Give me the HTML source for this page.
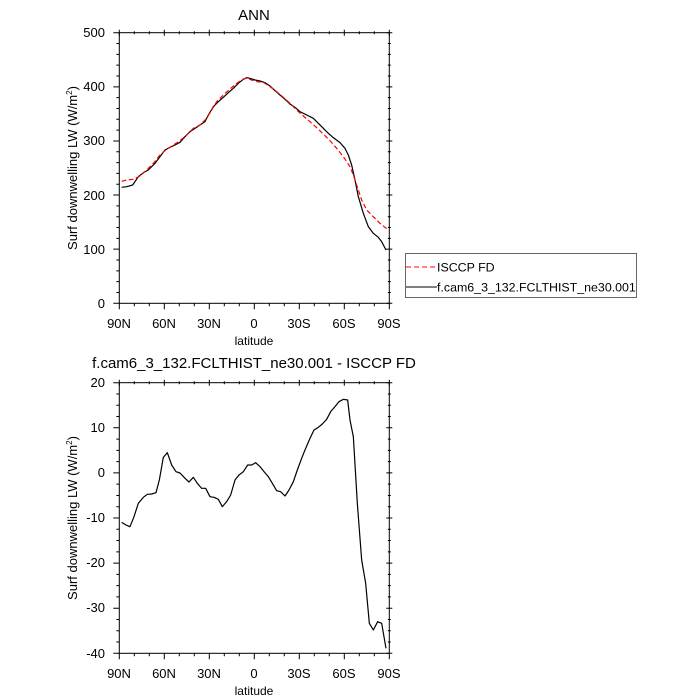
<!DOCTYPE html>
<html><head><style>html,body{margin:0;padding:0;background:#fff}svg{display:block}text{font-family:"Liberation Sans",sans-serif;fill:#000}</style></head>
<body>
<svg width="700" height="700" viewBox="0 0 700 700" xmlns="http://www.w3.org/2000/svg">
<g id="ticks" stroke="#000" stroke-width="1" fill="none"></g>
<text x="254" y="20" font-size="15" text-anchor="middle">ANN</text>
<text x="254" y="368" font-size="15" text-anchor="middle">f.cam6_3_132.FCLTHIST_ne30.001 - ISCCP FD</text>
<rect x="119.3" y="32.7" width="270" height="270.6" fill="none" stroke="#000" stroke-width="1"/>
<rect x="119.3" y="382.7" width="270" height="270.6" fill="none" stroke="#000" stroke-width="1"/>
<g font-size="13" text-anchor="end">
<text x="105" y="37">500</text><text x="105" y="91">400</text><text x="105" y="145">300</text><text x="105" y="200">200</text><text x="105" y="254">100</text><text x="105" y="308">0</text>
<text x="105" y="387">20</text><text x="105" y="432">10</text><text x="105" y="477">0</text><text x="105" y="522">-10</text><text x="105" y="567">-20</text><text x="105" y="612">-30</text><text x="105" y="658">-40</text>
</g>
<g font-size="13" text-anchor="middle">
<text x="119" y="328">90N</text><text x="164" y="328">60N</text><text x="209" y="328">30N</text><text x="254" y="328">0</text><text x="299" y="328">30S</text><text x="344" y="328">60S</text><text x="389" y="328">90S</text>
<text x="119" y="678">90N</text><text x="164" y="678">60N</text><text x="209" y="678">30N</text><text x="254" y="678">0</text><text x="299" y="678">30S</text><text x="344" y="678">60S</text><text x="389" y="678">90S</text>
<text x="254" y="345" font-size="12">latitude</text>
<text x="254" y="695" font-size="12">latitude</text>
</g>
<text transform="translate(77,168) rotate(-90)" font-size="13" text-anchor="middle">Surf downwelling LW (W/m<tspan font-size="8" dy="-5">2</tspan><tspan dy="5">)</tspan></text>
<text transform="translate(77,518) rotate(-90)" font-size="13" text-anchor="middle">Surf downwelling LW (W/m<tspan font-size="8" dy="-5">2</tspan><tspan dy="5">)</tspan></text>
<g transform="translate(60,20) scale(0.33333)" fill="none" stroke-width="3.6" stroke-linejoin="round">
<polyline stroke="#000" points="185,502 200,500 218,495 235,470 250,458 265,450 285,430 300,410 315,390 330,382 345,375 360,367 375,350 390,335 405,325 420,315 435,305 445,285 460,260 475,245 490,232 505,218 520,205 535,190 550,178 560,173 570,175 585,180 600,183 615,188 630,198 645,212 660,225 675,238 690,252 705,262 720,275 740,285 760,295 775,310 790,325 805,340 820,353 840,368 855,385 865,405 875,435 885,480 895,530 910,580 925,620 940,640 955,652 965,665 978,690"/>
<polyline stroke="#f00" stroke-dasharray="14,8" points="185,484 200,480 220,478 240,468 260,450 280,430 300,405 320,388 340,375 360,362 380,345 400,325 420,315 440,295 455,270 470,245 490,225 510,207 530,190 550,177 560,175 575,180 590,185 610,187 630,200 650,215 670,232 690,250 710,270 730,288 750,305 770,323 790,342 810,362 830,385 850,410 870,440 880,465 890,495 905,540 920,570 940,590 960,610 985,630"/>
</g>
<g transform="translate(60,370) scale(0.33333)" fill="none" stroke-width="3.6" stroke-linejoin="round">
<polyline stroke="#000" points="185,457 198,465 210,470 222,440 235,400 250,382 262,373 275,372 288,368 298,330 310,262 322,248 335,285 348,305 360,309 375,325 387,336 400,322 412,340 425,355 437,355 450,380 462,382 475,388 487,410 500,395 512,375 525,330 537,315 550,305 563,285 575,285 587,278 600,290 612,305 625,320 637,340 650,362 662,365 675,378 687,360 700,335 712,300 725,265 737,235 750,205 762,180 775,172 787,162 800,148 812,125 825,110 837,95 850,88 863,90 870,150 880,200 892,400 905,570 917,640 928,760 940,780 953,755 965,760 978,835"/>
</g>
<rect x="405.5" y="253.5" width="231" height="44" fill="none" stroke="#666" stroke-width="1"/>
<line x1="406" y1="267" x2="437" y2="267" stroke="#f00" stroke-dasharray="5,3"/>
<line x1="406" y1="287" x2="437" y2="287" stroke="#000"/>
<text x="437" y="271.5" font-size="12.4">ISCCP FD</text>
<text x="437" y="291.5" font-size="12.4">f.cam6_3_132.FCLTHIST_ne30.001</text>
</svg>
<script>
(function(){
var g=document.getElementById('ticks'),d='';
function box(t,b){
 var L=119.3;
 for(var i=0;i<=18;i++){var x=L+i*15,maj=i%3==0,l=maj?6:3;
  d+='M'+x+' '+b+'v'+l+'M'+x+' '+t+'v-'+l/2+'M'+x+' '+t+'v'+l/2;}
}
box(32.7,303.3);box(382.7,653.3);
function yt(t,b,n,mj){var L=119.3,R=389.3,h=(b-t)/n;
 for(var i=0;i<=n;i++){var y=t+i*h,maj=i%mj==0,l=maj?6:3;
  d+='M'+L+' '+y+'h-'+l+'M'+R+' '+y+'h'+l/2+'M'+R+' '+y+'h-'+l/2;}}
yt(32.7,303.3,25,5);yt(382.7,653.3,24,4);
var p=document.createElementNS('http://www.w3.org/2000/svg','path');p.setAttribute('d',d);g.appendChild(p);
})();
</script>
</body></html>
